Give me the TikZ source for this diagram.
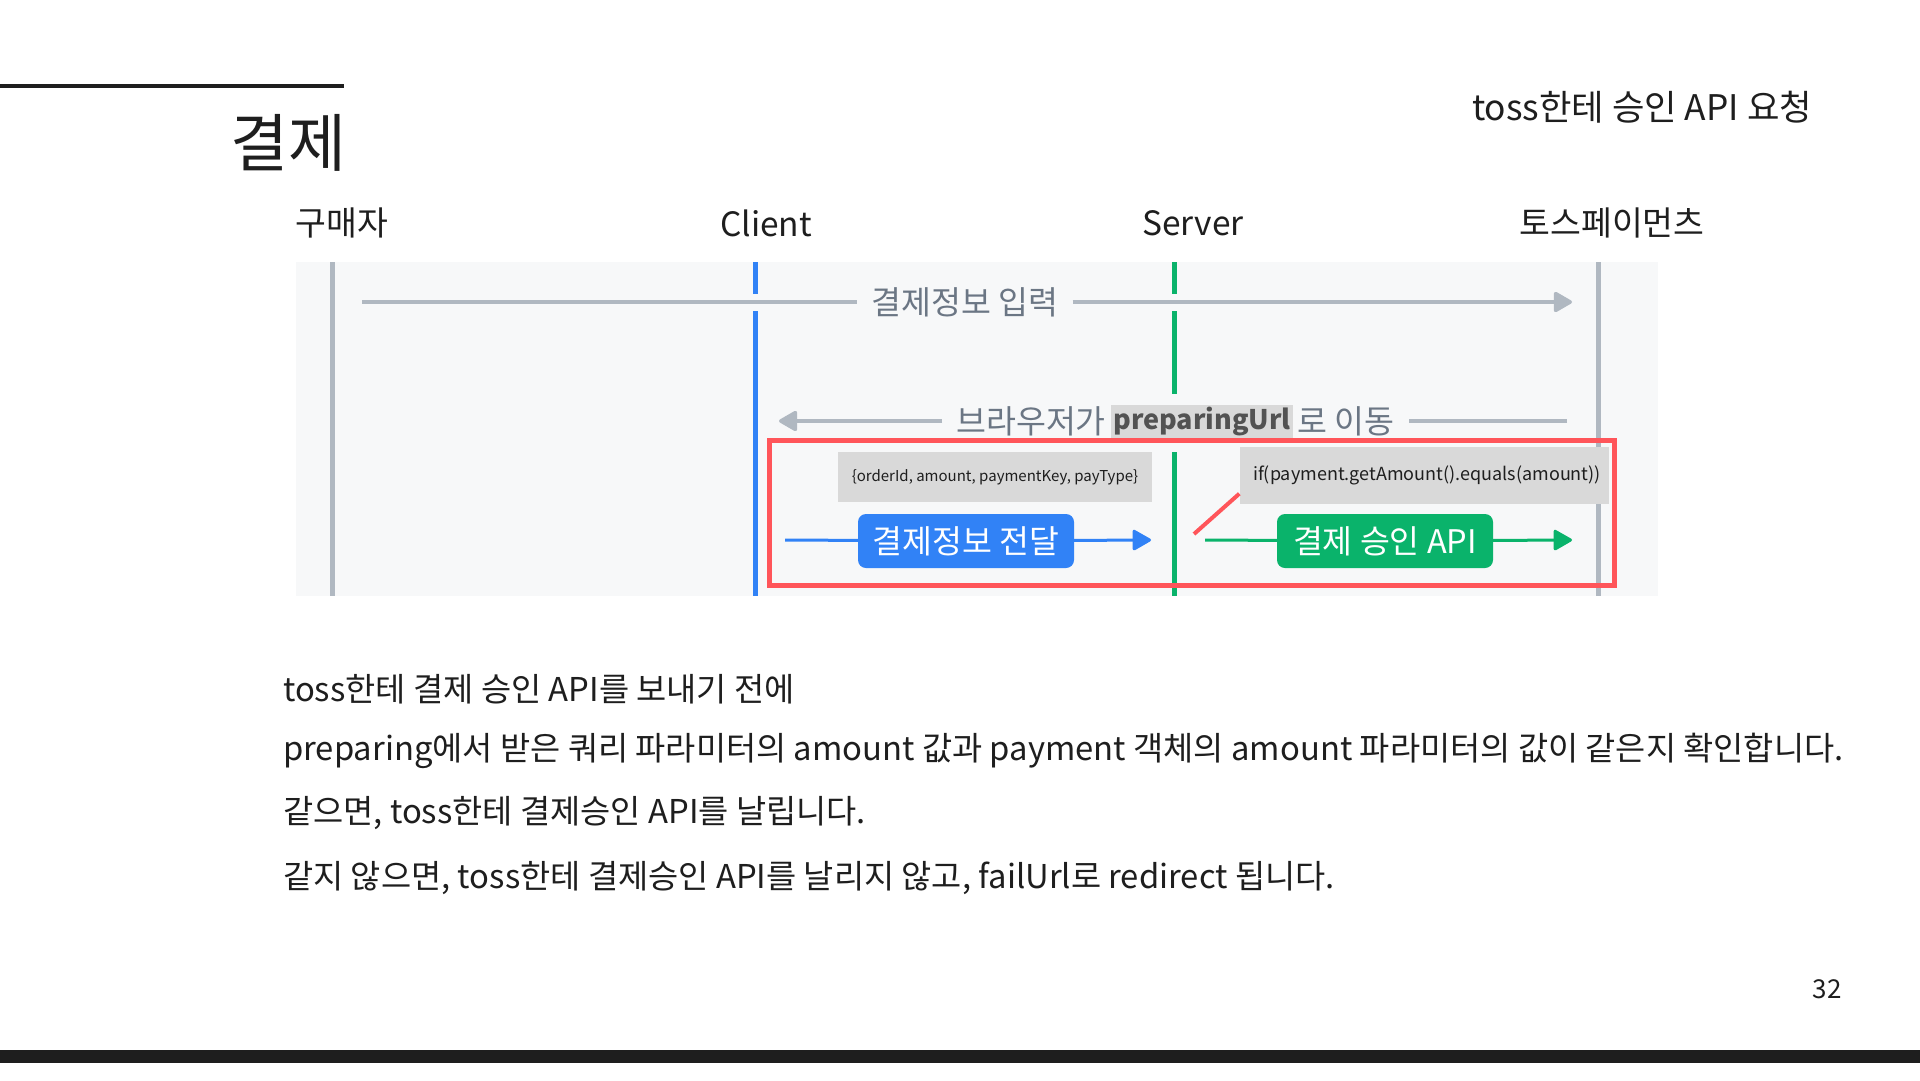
\documentclass[tikz,border=0pt]{standalone}
\usepackage{fontspec}
\setmainfont{Noto Sans CJK KR}
\usetikzlibrary{arrows.meta}
\definecolor{panelbg}{HTML}{F7F8F9}
\definecolor{lifegray}{HTML}{B0B8C1}
\definecolor{lblgray}{HTML}{6B7684}
\definecolor{tblue}{HTML}{3182F6}
\definecolor{tgreen}{HTML}{0AB36B}
\definecolor{tred}{HTML}{FF555A}
\definecolor{boxgray}{HTML}{D9D9D9}
\definecolor{ink}{HTML}{1E1E1E}
\newcommand{\myfs}[1]{\fontsize{#1}{#1}\selectfont}
\begin{document}
\begin{tikzpicture}[x=1pt,y=-1pt,
  txt/.style={inner sep=0pt, text=ink},
  actor/.style={txt, font=\myfs{33.5}},
  lbl/.style={inner sep=0pt, text=lblgray, font=\myfs{32.5}},
  life/.style={line width=5pt, color=lifegray},
  lifeb/.style={line width=5pt, color=tblue},
  lifeg/.style={line width=5pt, color=tgreen},
  gline/.style={line width=3.5pt, color=lifegray},
  tip/.style={-{Triangle[length=20pt,width=22pt,round]}},
  notebox/.style={fill=boxgray, inner sep=0pt, text=ink},
  pill/.style={rounded corners=8pt, inner sep=0pt, minimum width=216pt, minimum height=54pt, text=white, font=\myfs{32.5}},
  body/.style={txt, anchor=west, font=\myfs{32.8}}
]
\useasboundingbox (0,0) rectangle (1920,1080);
\fill[white] (0,0) rectangle (1920,1080);

% header
\coordinate (rulel) at (0,86);
\coordinate (ruler) at (344,86);
\draw[line width=4pt, ink] (rulel) -- (ruler);
\node[txt, anchor=east, font=\myfs{63}] (title) at (347,143) {결제};
\node[txt, font=\myfs{35.3}] (subtitle) at (1642,107) {toss한테 승인 API 요청};

% actors
\node[actor] (buyer) at (342,223) {구매자};
\node[actor] (client) at (766,223) {Client};
\node[actor] (server) at (1193,223) {Server};
\node[actor] (toss) at (1612,223) {토스페이먼츠};

% panel
\node[fill=panelbg, inner sep=0pt, minimum width=1362pt, minimum height=334pt] (panel) at (977,429) {};

% lifelines
\coordinate (bt) at (332,262); \coordinate (bb) at (332,596);
\draw[life] (bt) -- (bb);
\coordinate (ct) at (755,262); \coordinate (c1) at (755,294);
\coordinate (c2) at (755,311); \coordinate (cb) at (755,596);
\draw[lifeb] (ct) -- (c1); \draw[lifeb] (c2) -- (cb);
\coordinate (st) at (1174,262); \coordinate (s1) at (1174,294);
\coordinate (s2) at (1174,311); \coordinate (s3) at (1174,394);
\coordinate (s4) at (1174,452); \coordinate (sb) at (1174,596);
\draw[lifeg] (st) -- (s1); \draw[lifeg] (s2) -- (s3); \draw[lifeg] (s4) -- (sb);
\coordinate (tt) at (1598,262); \coordinate (tb) at (1598,596);
\draw[life] (tt) -- (tb);

% arrow 1
\coordinate (a1s) at (362,302);
\coordinate (a1e) at (1572,302);
\node[lbl, inner xsep=14pt] (l1) at (965,302) {결제정보 입력};
\draw[gline] (a1s) -- (l1);
\draw[gline, tip] (l1) -- (a1e);

% arrow 2
\coordinate (a2s) at (1567,421);
\coordinate (a2e) at (779,421);
\node[notebox, text=black!68, font=\myfs{27}\bfseries, inner xsep=2pt, minimum height=33pt] (l2b) at (1202,421) {preparingUrl};
\node[lbl, anchor=east] (l2a) at ([xshift=-5pt]l2b.west) {브라우저가};
\node[lbl, anchor=west] (l2c) at ([xshift=4pt]l2b.east) {로 이동};
\draw[gline] (a2s) -- ([xshift=15pt]l2c.east);
\draw[gline, tip] ([xshift=-14pt]l2a.west) -- (a2e);

% notes
\node[notebox, minimum width=314pt, minimum height=50pt, font=\myfs{15}] (note1) at (995,477) {\{orderId, amount, paymentKey, payType\}};
\node[notebox, minimum width=369pt, minimum height=57pt, font=\myfs{18}] (note2) at (1424,475) {\hspace*{6pt}if(payment.getAmount().equals(amount))};
\coordinate (rd) at (1194,534);
\draw[tred, line width=4pt] (rd) -- ([yshift=10pt]note2.south west);

% messages
\coordinate (b3s) at (785,540); \coordinate (b3e) at (1151,540);
\node[pill, fill=tblue] (pay) at (966,541) {결제정보 전달};
\draw[tblue, line width=3pt] (b3s) -- (pay);
\draw[tblue, line width=3pt, tip] (pay) -- (b3e);
\coordinate (g3s) at (1205,540); \coordinate (g3e) at (1572,540);
\node[pill, fill=tgreen] (approve) at (1385,541) {결제 승인 API};
\draw[tgreen, line width=3pt] (g3s) -- (approve);
\draw[tgreen, line width=3pt, tip] (approve) -- (g3e);

% red frame
\node[draw=tred, line width=5pt, inner sep=0pt, minimum width=845pt, minimum height=145pt] (frame) at (1191.5,512.5) {};

% body text
\node[body] (t1) at (283,689) {toss한테 결제 승인 API를 보내기 전에};
\node[body] (t2) at (283,751) {preparing에서 받은 쿼리 파라미터의 amount 값과 payment 객체의 amount 파라미터의 값이 같은지 확인합니다.};
\node[body] (t3) at (283,813) {같으면, toss한테 결제승인 API를 날립니다.};
\node[body] (t4) at (283,878) {같지 않으면, toss한테 결제승인 API를 날리지 않고, failUrl로 redirect 됩니다.};

% footer
\node[txt, font=\myfs{26}] (page) at (1827,989) {32};
\fill[ink] (0,1050) rectangle (1920,1063);
\end{tikzpicture}
\end{document}
